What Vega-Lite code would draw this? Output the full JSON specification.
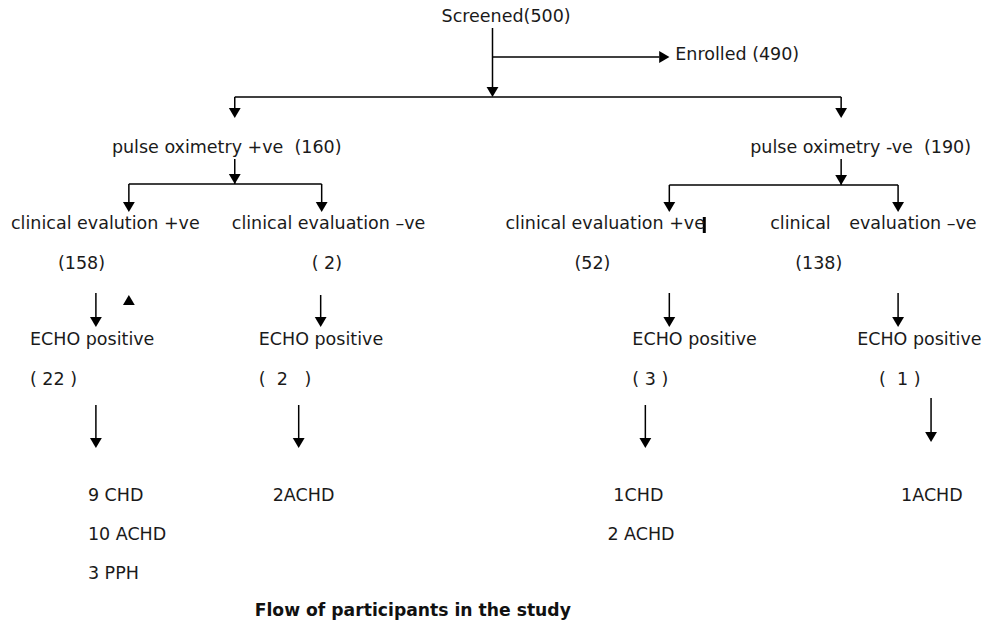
{
  "$schema": "https://vega.github.io/schema/vega-lite/v6.json",
  "width": 982,
  "height": 624,
  "padding": 0,
  "autosize": {"type": "fit", "contains": "padding"},
  "background": "white",
  "config": {"view": {"stroke": null}},
  "datasets": {
    "labels": [
      {"x": 442, "y": 17, "label": "Screened(500)"},
      {"x": 676, "y": 55, "label": "Enrolled (490)"},
      {"x": 112, "y": 148, "label": "pulse oximetry +ve \u00a0(160)"},
      {"x": 751, "y": 148, "label": "pulse oximetry -ve \u00a0(190)"},
      {"x": 11, "y": 224, "label": "clinical evalution +ve"},
      {"x": 232, "y": 224, "label": "clinical evaluation –ve"},
      {"x": 506, "y": 224, "label": "clinical evaluation +ve"},
      {"x": 771, "y": 224, "label": "clinical"},
      {"x": 850, "y": 224, "label": "evaluation –ve"},
      {"x": 58, "y": 264, "label": "(158)"},
      {"x": 312, "y": 264, "label": "( 2)"},
      {"x": 575, "y": 264, "label": "(52)"},
      {"x": 796, "y": 264, "label": "(138)"},
      {"x": 30, "y": 340, "label": "ECHO positive"},
      {"x": 259, "y": 340, "label": "ECHO positive"},
      {"x": 633, "y": 340, "label": "ECHO positive"},
      {"x": 858, "y": 340, "label": "ECHO positive"},
      {"x": 30, "y": 380, "label": "( 22 )"},
      {"x": 259, "y": 380, "label": "(\u00a0 2 \u00a0 )"},
      {"x": 633, "y": 380, "label": "( 3 )"},
      {"x": 880, "y": 380, "label": "(\u00a0 1 )"},
      {"x": 88, "y": 496, "label": "9 CHD"},
      {"x": 88, "y": 535, "label": "10 ACHD"},
      {"x": 88, "y": 574, "label": "3 PPH"},
      {"x": 273, "y": 496, "label": "2ACHD"},
      {"x": 614, "y": 496, "label": "1CHD"},
      {"x": 608, "y": 535, "label": "2 ACHD"},
      {"x": 902, "y": 496, "label": "1ACHD"}
    ],
    "caption": [
      {"x": 255, "y": 611, "label": "Flow of participants in the study"}
    ],
    "segments": [
      {"x": 493, "y": 28, "x2": 493, "y2": 92},
      {"x": 493, "y": 57, "x2": 660, "y2": 57},
      {"x": 235, "y": 97, "x2": 842, "y2": 97},
      {"x": 235, "y": 97, "x2": 235, "y2": 113},
      {"x": 842, "y": 97, "x2": 842, "y2": 113},
      {"x": 235, "y": 159, "x2": 235, "y2": 184},
      {"x": 129, "y": 184, "x2": 322, "y2": 184},
      {"x": 129, "y": 184, "x2": 129, "y2": 207},
      {"x": 322, "y": 184, "x2": 322, "y2": 207},
      {"x": 842, "y": 159, "x2": 842, "y2": 185},
      {"x": 670, "y": 185, "x2": 899, "y2": 185},
      {"x": 670, "y": 185, "x2": 670, "y2": 207},
      {"x": 899, "y": 185, "x2": 899, "y2": 207},
      {"x": 96, "y": 293, "x2": 96, "y2": 322},
      {"x": 321, "y": 295, "x2": 321, "y2": 322},
      {"x": 670, "y": 293, "x2": 670, "y2": 322},
      {"x": 899, "y": 293, "x2": 899, "y2": 322},
      {"x": 96, "y": 405, "x2": 96, "y2": 443},
      {"x": 299, "y": 405, "x2": 299, "y2": 443},
      {"x": 646, "y": 405, "x2": 646, "y2": 443},
      {"x": 932, "y": 398, "x2": 932, "y2": 437}
    ],
    "cursor": [
      {"x": 705, "y": 217, "x2": 705, "y2": 233}
    ],
    "heads": [
      {"x": 493, "y": 92, "dir": "down"},
      {"x": 665, "y": 57, "dir": "right"},
      {"x": 235, "y": 113, "dir": "down"},
      {"x": 842, "y": 113, "dir": "down"},
      {"x": 235, "y": 179, "dir": "down"},
      {"x": 842, "y": 180, "dir": "down"},
      {"x": 129, "y": 207, "dir": "down"},
      {"x": 322, "y": 207, "dir": "down"},
      {"x": 670, "y": 207, "dir": "down"},
      {"x": 899, "y": 207, "dir": "down"},
      {"x": 96, "y": 322, "dir": "down"},
      {"x": 321, "y": 322, "dir": "down"},
      {"x": 670, "y": 322, "dir": "down"},
      {"x": 899, "y": 322, "dir": "down"},
      {"x": 96, "y": 443, "dir": "down"},
      {"x": 299, "y": 443, "dir": "down"},
      {"x": 646, "y": 443, "dir": "down"},
      {"x": 932, "y": 437, "dir": "down"},
      {"x": 129, "y": 300, "dir": "up"}
    ]
  },
  "layer": [
    {
      "data": {"name": "segments"},
      "mark": {"type": "rule", "color": "black", "strokeWidth": 1.5},
      "encoding": {
        "x": {"field": "x", "type": "quantitative", "scale": {"domain": [0, 982], "nice": false, "zero": false}, "axis": null},
        "y": {"field": "y", "type": "quantitative", "scale": {"domain": [624, 0], "nice": false, "zero": false}, "axis": null},
        "x2": {"field": "x2"},
        "y2": {"field": "y2"}
      }
    },
    {
      "data": {"name": "cursor"},
      "mark": {"type": "rule", "color": "black", "strokeWidth": 3},
      "encoding": {
        "x": {"field": "x", "type": "quantitative"},
        "y": {"field": "y", "type": "quantitative"},
        "x2": {"field": "x2"},
        "y2": {"field": "y2"}
      }
    },
    {
      "data": {"name": "heads"},
      "mark": {"type": "point", "filled": true, "color": "black", "opacity": 1, "size": 140},
      "encoding": {
        "x": {"field": "x", "type": "quantitative"},
        "y": {"field": "y", "type": "quantitative"},
        "shape": {"field": "dir", "type": "nominal", "scale": {"domain": ["down", "right", "up"], "range": ["triangle-down", "triangle-right", "triangle-up"]}, "legend": null}
      }
    },
    {
      "data": {"name": "labels"},
      "mark": {"type": "text", "align": "left", "baseline": "middle", "font": "DejaVu Sans", "fontSize": 17.5, "color": "#1a1a1a"},
      "encoding": {
        "x": {"field": "x", "type": "quantitative"},
        "y": {"field": "y", "type": "quantitative"},
        "text": {"field": "label", "type": "nominal"}
      }
    },
    {
      "data": {"name": "caption"},
      "mark": {"type": "text", "align": "left", "baseline": "middle", "font": "DejaVu Sans", "fontSize": 17.2, "fontWeight": "bold", "color": "#111111"},
      "encoding": {
        "x": {"field": "x", "type": "quantitative"},
        "y": {"field": "y", "type": "quantitative"},
        "text": {"field": "label", "type": "nominal"}
      }
    }
  ]
}
